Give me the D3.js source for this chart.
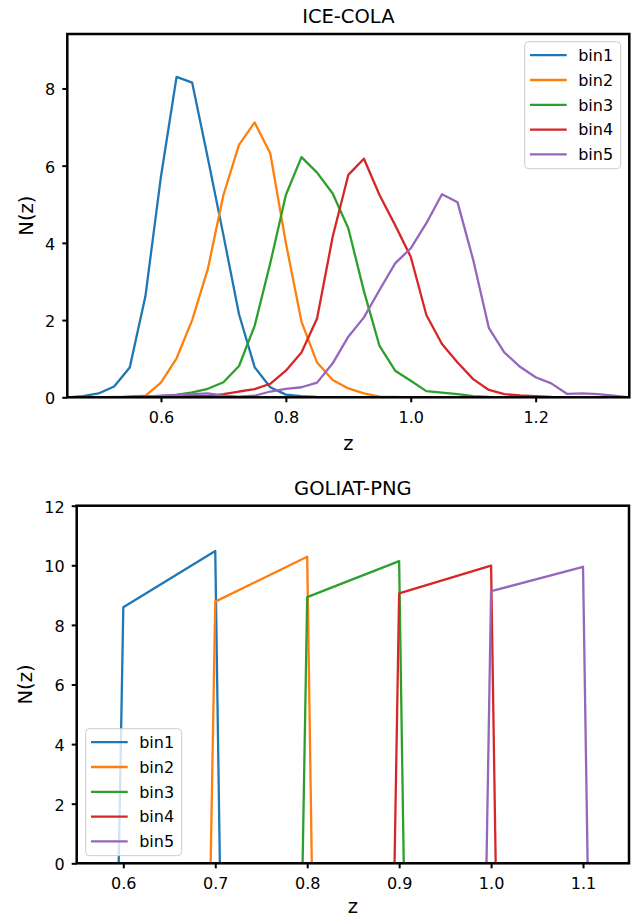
<!DOCTYPE html>
<html>
<head>
<meta charset="utf-8">
<script src="https://cdn.jsdelivr.net/npm/d3@7"></script>
<style>
  body { margin: 0; background: #fff; }
  text { font-family: "DejaVu Sans", sans-serif; fill: #000; }
</style>
</head>
<body>
<div id="my_dataviz"></div>
<script>
// ---- data ----
const binNames = ["bin1", "bin2", "bin3", "bin4", "bin5"];
const binColors = ["#1f77b4", "#ff7f0e", "#2ca02c", "#d62728", "#9467bd"];

// ICE-COLA: N(z) sampled on a regular z grid
const colaZ = [0.450, 0.475, 0.500, 0.525, 0.550, 0.575, 0.600, 0.625, 0.650, 0.675,
               0.700, 0.725, 0.750, 0.775, 0.800, 0.825, 0.850, 0.875, 0.900, 0.925,
               0.950, 0.975, 1.000, 1.025, 1.050, 1.075, 1.100, 1.125, 1.150, 1.175,
               1.200, 1.225, 1.250, 1.275, 1.300, 1.325, 1.350];
const colaBin1 = [0, 0.03, 0.10, 0.28, 0.77, 2.61, 5.72, 8.30, 8.15, 6.20,
                  4.20, 2.15, 0.78, 0.26, 0.07, 0.03, 0.01, 0, 0, 0,
                  0, 0, 0, 0, 0, 0, 0, 0, 0, 0,
                  0, 0, 0, 0, 0, 0, 0];
const colaBin2 = [0, 0, 0, 0.01, 0.02, 0.04, 0.38, 1.01, 2.00, 3.32,
                  5.24, 6.54, 7.12, 6.32, 4.00, 1.96, 0.90, 0.45, 0.23, 0.10,
                  0.02, 0.01, 0, 0, 0, 0, 0, 0, 0, 0,
                  0, 0, 0, 0, 0, 0, 0];
const colaBin3 = [0, 0, 0, 0, 0.01, 0.02, 0.03, 0.06, 0.13, 0.22,
                  0.39, 0.81, 1.85, 3.47, 5.24, 6.22, 5.82, 5.28, 4.38, 2.75,
                  1.33, 0.69, 0.43, 0.16, 0.12, 0.08, 0.03, 0.01, 0, 0,
                  0, 0, 0, 0, 0, 0, 0];
const colaBin4 = [0, 0, 0, 0, 0.01, 0.02, 0.02, 0.03, 0.03, 0.03,
                  0.08, 0.15, 0.21, 0.35, 0.69, 1.16, 2.04, 4.16, 5.76, 6.18,
                  5.24, 4.46, 3.64, 2.13, 1.38, 0.90, 0.47, 0.19, 0.08, 0.05,
                  0.03, 0.01, 0, 0, 0, 0, 0];
const colaBin5 = [0, 0, 0, 0, 0.01, 0.02, 0.04, 0.06, 0.08, 0.10,
                  0.04, 0.02, 0.04, 0.15, 0.22, 0.26, 0.38, 0.88, 1.57, 2.07,
                  2.78, 3.47, 3.86, 4.51, 5.26, 5.05, 3.56, 1.80, 1.16, 0.79,
                  0.52, 0.36, 0.09, 0.10, 0.08, 0.04, 0];

// GOLIAT-PNG: top-hat bins with a linear slope inside
const pngLo = [0.6, 0.7, 0.8, 0.9, 1.0];
const pngHi = [0.7, 0.8, 0.9, 1.0, 1.1];
const pngStart = [8.59, 8.78, 8.93, 9.06, 9.13];
const pngEnd = [10.48, 10.29, 10.14, 9.99, 9.95];
const pngEdge = 0.005;
const pngRange = [0.55, 1.11];

// ticks
const colaXTicks = [0.6, 0.8, 1.0, 1.2];
const colaYTicks = [0, 2, 4, 6, 8];
const pngXTicks = [0.6, 0.7, 0.8, 0.9, 1.0, 1.1];
const pngYTicks = [0, 2, 4, 6, 8, 10, 12];

// ---- page ----
const W = 638, H = 917;
const svg = d3.select("#my_dataviz")
  .append("svg")
    .attr("width", W)
    .attr("height", H);

const colaSeries = [colaBin1, colaBin2, colaBin3, colaBin4, colaBin5]
  .map(vals => vals.map((v, i) => [colaZ[i], v]));

const pngSeries = pngLo.map((lo, i) => [
  [pngRange[0], 0],
  [lo - pngEdge, 0],
  [lo, pngStart[i]],
  [pngHi[i], pngEnd[i]],
  [pngHi[i] + pngEdge, 0],
  [pngRange[1], 0]
]);

drawPanel({
  id: "cola",
  left: 67.3, right: 629.3, top: 34, bottom: 397.3,
  xDomain: [0.45, 1.35], yDomain: [0, 9.41],
  xTicks: colaXTicks, yTicks: colaYTicks,
  series: colaSeries,
  title: "ICE-COLA",
  legend: "upper right",
  zLabelY: 52.5
});

drawPanel({
  id: "png",
  left: 76.7, right: 629, top: 505.7, bottom: 863.3,
  xDomain: [0.5493, 1.15], yDomain: [0, 12],
  xTicks: pngXTicks, yTicks: pngYTicks,
  series: pngSeries,
  title: "GOLIAT-PNG",
  legend: "lower left",
  zLabelY: 49.5
});

function drawPanel(p) {
  const w = p.right - p.left, h = p.bottom - p.top;
  const g = svg.append("g").attr("transform", `translate(${p.left},${p.top})`);

  const x = d3.scaleLinear().domain(p.xDomain).range([0, w]);
  const y = d3.scaleLinear().domain(p.yDomain).range([h, 0]);

  // clip lines to the axes box
  g.append("defs").append("clipPath")
      .attr("id", "clip-" + p.id)
    .append("rect")
      .attr("x", 0).attr("y", -1)
      .attr("width", w).attr("height", h + 1);

  const line = d3.line().x(d => x(d[0])).y(d => y(d[1]));

  g.append("g")
      .attr("clip-path", `url(#clip-${p.id})`)
    .selectAll("path")
    .data(p.series)
    .join("path")
      .attr("fill", "none")
      .attr("stroke", (d, i) => binColors[i])
      .attr("stroke-width", 2.3)
      .attr("stroke-linejoin", "round")
      .attr("d", line);

  // axes
  const xAxis = g.append("g")
      .attr("transform", `translate(0,${h})`)
      .call(d3.axisBottom(x).tickValues(p.xTicks).tickFormat(d3.format(".1f")).tickSize(5).tickSizeOuter(0));
  xAxis.select(".domain").remove();
  xAxis.selectAll(".tick line").attr("stroke", "#000").attr("stroke-width", 2);
  xAxis.selectAll(".tick text")
      .attr("y", 25.5).attr("dy", 0)
      .attr("font-size", "16px");

  const yAxis = g.append("g")
      .call(d3.axisLeft(y).tickValues(p.yTicks).tickFormat(d3.format("d")).tickSize(5).tickSizeOuter(0));
  yAxis.select(".domain").remove();
  yAxis.selectAll(".tick line").attr("stroke", "#000").attr("stroke-width", 2);
  yAxis.selectAll(".tick text")
      .attr("x", -12).attr("dy", "0.4em")
      .attr("font-size", "16px");

  // frame
  g.append("rect")
      .attr("width", w).attr("height", h)
      .attr("fill", "none")
      .attr("stroke", "#000")
      .attr("stroke-width", 2.5);

  // labels
  g.append("text")
      .attr("x", w / 2).attr("y", -11)
      .attr("text-anchor", "middle")
      .attr("font-size", "19.5px")
      .text(p.title);

  g.append("text")
      .attr("x", w / 2).attr("y", h + p.zLabelY)
      .attr("text-anchor", "middle")
      .attr("font-size", "19.5px")
      .text("z");

  g.append("text")
      .attr("transform", `translate(${32.5 - p.left},${h / 2})rotate(-90)`)
      .attr("text-anchor", "middle")
      .attr("font-size", "19.5px")
      .text("N(z)");

  // legend
  const lw = 96, lh = 127;
  const lx = p.legend === "upper right" ? w - 8.6 - lw : 9;
  const ly = p.legend === "upper right" ? 7.7 : h - 7.6 - lh;
  const leg = g.append("g").attr("transform", `translate(${lx},${ly})`);
  leg.append("rect")
      .attr("width", lw).attr("height", lh)
      .attr("rx", 4).attr("ry", 4)
      .attr("fill", "#fff").attr("fill-opacity", 0.8)
      .attr("stroke", "#cccccc").attr("stroke-width", 1);
  const item = leg.selectAll("g.item")
    .data(binNames)
    .join("g")
      .attr("class", "item")
      .attr("transform", (d, i) => `translate(0,${13.5 + i * 24.8})`);
  item.append("line")
      .attr("x1", 5.3).attr("x2", 42)
      .attr("stroke", (d, i) => binColors[i])
      .attr("stroke-width", 2.3);
  item.append("text")
      .attr("x", 53.5).attr("dy", "0.36em")
      .attr("font-size", "16px")
      .text(d => d);
}
</script>
</body>
</html>
